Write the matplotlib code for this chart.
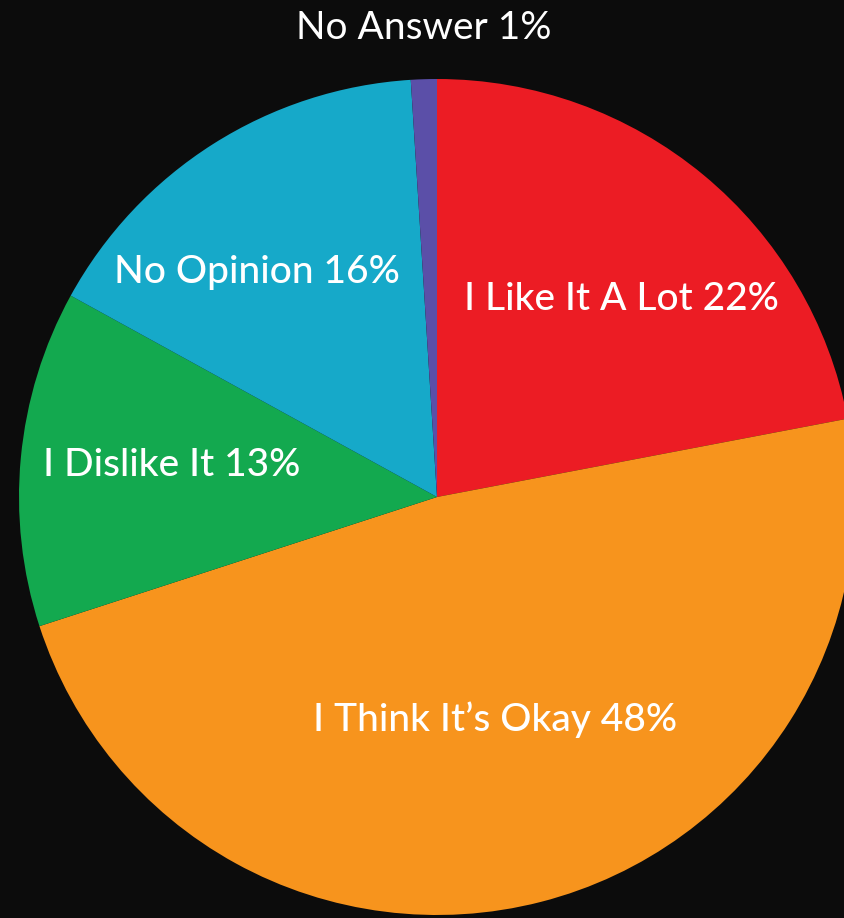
import matplotlib
matplotlib.use("Agg")
import matplotlib.pyplot as plt

# survey answers, clockwise from the top
labels = ["I Like It A Lot", "I Think It\u2019s Okay", "I Dislike It", "No Opinion", "No Answer"]
shares = [22, 48, 13, 16, 1]
colors = ["#ec1c24", "#f7941d", "#13a94f", "#16a9c9", "#5b4fa8"]

# label anchor points in pixel space (x, y from top)
label_pos = [(621, 299), (495, 720), (172, 465), (257, 272), (424, 28)]

W, H = 844, 918
fig = plt.figure(figsize=(W / 100, H / 100), dpi=100)
fig.patch.set_facecolor("#0c0c0c")
ax = fig.add_axes([0, 0, 1, 1])
ax.set_facecolor("#0c0c0c")

ax.pie(shares, colors=colors, startangle=90, counterclock=False,
       center=(437, H - 497), radius=418, frame=True,
       wedgeprops=dict(linewidth=0))
ax.set_xlim(0, W)
ax.set_ylim(0, H)
ax.set_aspect("equal")
ax.axis("off")

for name, val, (x, y) in zip(labels, shares, label_pos):
    txt = f"{name} {val}%"
    weight = "normal" if name == "No Answer" else "medium"
    ax.text(x, H - y, txt, ha="center", va="center", color="white",
            fontsize=28, family="Lato", fontweight=weight)

fig.savefig("out.png", dpi=100, facecolor=fig.get_facecolor())
